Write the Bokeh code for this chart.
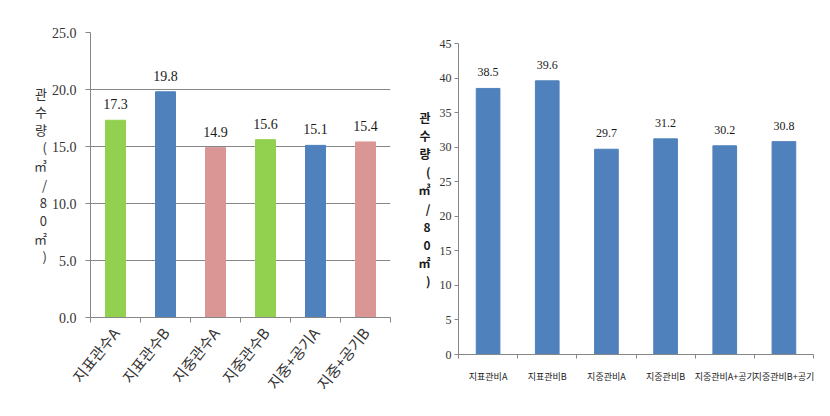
from bokeh.plotting import figure
from bokeh.models import ColumnDataSource, Range1d, FixedTicker, PrintfTickFormatter
from bokeh.layouts import row
from bokeh.embed import file_html
from bokeh.resources import INLINE
from bokeh.core.properties import value

# ---- data ----
left_categories = ["지표관수A", "지표관수B", "지중관수A", "지중관수B", "지중+공기A", "지중+공기B"]
left_values = [17.3, 19.8, 14.9, 15.6, 15.1, 15.4]
left_colors = ["#92D050", "#4F81BD", "#D99694", "#92D050", "#4F81BD", "#D99694"]
left_yticks = [0, 5, 10, 15, 20, 25]

right_categories = ["지표관비A", "지표관비B", "지중관비A", "지중관비B", "지중관비A+공기", "지중관비B+공기"]
right_values = [38.5, 39.6, 29.7, 31.2, 30.2, 30.8]
right_color = "#4F81BD"
right_yticks = [0, 5, 10, 15, 20, 25, 30, 35, 40, 45]

left_title = "관수량(㎥/80㎡)"
right_title = "관수량(㎥/80㎡)"

AX = "#868686"

# ---- left chart ----
n1 = len(left_categories)
centers1 = [i + 0.5 for i in range(n1)]
src1 = ColumnDataSource(dict(x=centers1, top=left_values, color=left_colors,
                             label=[f"{v:.1f}" for v in left_values]))
p1 = figure(width=415, height=416, x_range=Range1d(0, n1), y_range=Range1d(0, 25),
            output_backend="svg", toolbar_location=None,
            min_border_left=90, min_border_right=25, min_border_top=32, min_border_bottom=99)
p1.frame_align = False
p1.outline_line_color = None
p1.vbar(x="x", top="top", width=0.4, color="color", source=src1)
p1.text(x="x", y="top", text="label", source=src1, text_align="center", text_baseline="bottom",
        y_offset=-11, text_font=value("Liberation Serif"), text_font_size="14px", text_color="#1a1a1a")

p1.xaxis.ticker = FixedTicker(ticks=centers1, minor_ticks=list(range(n1 + 1)))
p1.xaxis.major_label_overrides = {c: name for c, name in zip(centers1, left_categories)}
p1.xaxis.major_tick_line_color = None
p1.xaxis.major_tick_out = 0
p1.xaxis.major_tick_in = 0
p1.xaxis.minor_tick_out = 5
p1.xaxis.minor_tick_in = 0
p1.xaxis.minor_tick_line_color = AX
p1.xaxis.axis_line_color = AX
p1.xaxis.major_label_orientation = 0.9
p1.xaxis.major_label_standoff = 7
p1.xaxis.major_label_text_font = "Noto Sans CJK KR"
p1.xaxis.major_label_text_font_size = "15px"
p1.xaxis.major_label_text_color = "#333333"

p1.yaxis.ticker = FixedTicker(ticks=left_yticks, minor_ticks=[])
p1.yaxis.formatter = PrintfTickFormatter(format="%.1f")
p1.yaxis.axis_line_color = AX
p1.yaxis.major_tick_line_color = AX
p1.yaxis.major_tick_out = 5
p1.yaxis.major_tick_in = 0
p1.yaxis.major_label_standoff = 9
p1.yaxis.major_label_text_font = "Liberation Serif"
p1.yaxis.major_label_text_font_size = "14px"
p1.yaxis.major_label_text_color = "#333333"
p1.yaxis.axis_label = "\n".join(left_title)
p1.yaxis.axis_label_orientation = "horizontal"
p1.yaxis.axis_label_standoff = 2
p1.yaxis.axis_label_text_font = "Noto Sans CJK KR"
p1.yaxis.axis_label_text_font_size = "13px"
p1.yaxis.axis_label_text_font_style = "normal"
p1.yaxis.axis_label_text_line_height = 0.95
p1.yaxis.axis_label_text_color = "#333333"
p1.xgrid.grid_line_color = None
p1.ygrid.grid_line_color = AX
p1.ygrid.ticker = FixedTicker(ticks=left_yticks)

# ---- right chart ----
n2 = len(right_categories)
centers2 = [i + 0.5 for i in range(n2)]
src2 = ColumnDataSource(dict(x=centers2, top=right_values,
                             label=[f"{v:.1f}" for v in right_values]))
p2 = figure(width=415, height=416, x_range=Range1d(0, n2), y_range=Range1d(0, 45),
            output_backend="svg", toolbar_location=None,
            min_border_left=43, min_border_right=17, min_border_top=43, min_border_bottom=62)
p2.frame_align = False
p2.outline_line_color = None
p2.vbar(x="x", top="top", width=0.4, color=right_color, source=src2)
p2.text(x="x", y="top", text="label", source=src2, text_align="center", text_baseline="bottom",
        y_offset=-12, text_font=value("Liberation Sans Narrow"), text_font_size="12px", text_color="#1a1a1a")

p2.xaxis.ticker = FixedTicker(ticks=centers2, minor_ticks=list(range(n2 + 1)))
p2.xaxis.major_label_overrides = {c: name for c, name in zip(centers2, right_categories)}
p2.xaxis.major_tick_line_color = None
p2.xaxis.major_tick_out = 0
p2.xaxis.major_tick_in = 0
p2.xaxis.minor_tick_out = 4
p2.xaxis.minor_tick_in = 0
p2.xaxis.minor_tick_line_color = AX
p2.xaxis.axis_line_color = AX
p2.xaxis.major_label_standoff = 11
p2.xaxis.major_label_text_font = "Noto Sans CJK KR"
p2.xaxis.major_label_text_font_size = "9px"
p2.xaxis.major_label_text_color = "#1a1a1a"

p2.yaxis.ticker = FixedTicker(ticks=right_yticks, minor_ticks=[])
p2.yaxis.axis_line_color = AX
p2.yaxis.major_tick_line_color = AX
p2.yaxis.major_tick_out = 4
p2.yaxis.major_tick_in = 0
p2.yaxis.major_label_standoff = 3
p2.yaxis.major_label_text_font = "Liberation Sans Narrow"
p2.yaxis.major_label_text_font_size = "12px"
p2.yaxis.major_label_text_color = "#333333"
p2.yaxis.axis_label = "\n".join(right_title)
p2.yaxis.axis_label_orientation = "horizontal"
p2.yaxis.axis_label_standoff = 6
p2.yaxis.axis_label_text_font = "Noto Sans CJK KR"
p2.yaxis.axis_label_text_font_size = "12px"
p2.yaxis.axis_label_text_font_style = "bold"
p2.yaxis.axis_label_text_line_height = 1.07
p2.yaxis.axis_label_text_color = "#1a1a1a"
p2.xgrid.grid_line_color = None
p2.ygrid.grid_line_color = None

layout = row(p1, p2)
open("out.html", "w").write(file_html(layout, INLINE))
